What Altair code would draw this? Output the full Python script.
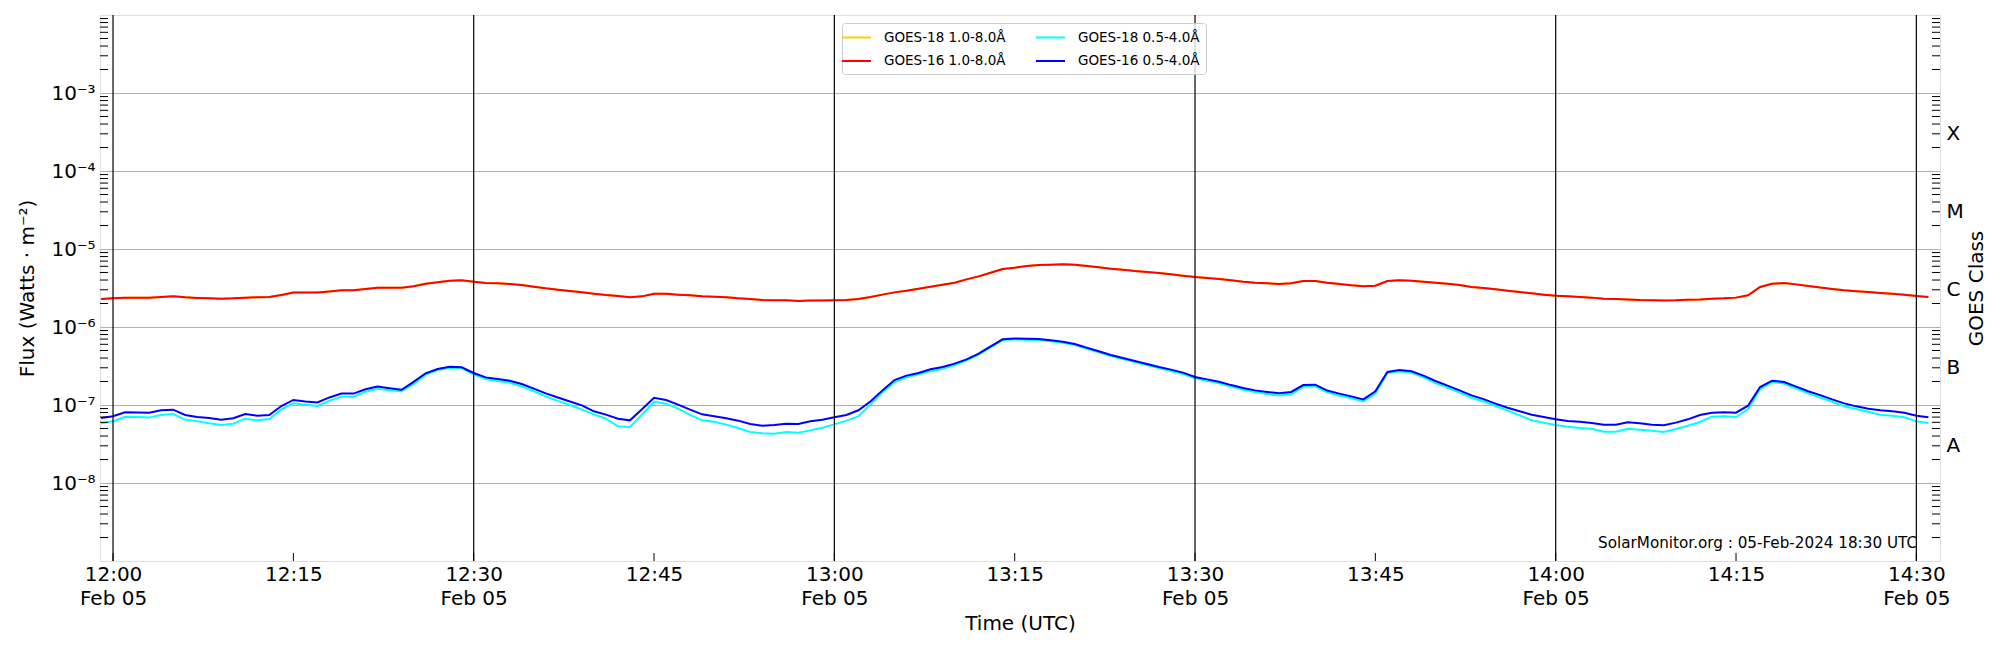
import altair as alt
import pandas as pd

# ---------------- data (1-minute cadence, 11:59 .. 14:31 UTC) ----------------
start_time = "2024-02-05 11:59:00"
n_points = 153

# GOES-16 1.0-8.0 A  (units of 1e-6 W m^-2)
goes16_long = [
    2.29, 2.33, 2.38, 2.38, 2.38, 2.42, 2.47, 2.40, 2.36, 2.33,
    2.31, 2.33, 2.38, 2.40, 2.42, 2.58, 2.76, 2.76, 2.76, 2.85,
    2.95, 2.95, 3.07, 3.19, 3.19, 3.19, 3.32, 3.59, 3.74, 3.93,
    3.97, 3.81, 3.66, 3.63, 3.56, 3.45, 3.29, 3.13, 3.01, 2.89,
    2.78, 2.67, 2.57, 2.50, 2.40, 2.47, 2.67, 2.67, 2.60, 2.55,
    2.47, 2.45, 2.40, 2.33, 2.29, 2.22, 2.20, 2.20, 2.15, 2.18,
    2.18, 2.20, 2.22, 2.29, 2.42, 2.60, 2.78, 2.92, 3.10, 3.29,
    3.49, 3.70, 4.08, 4.46, 4.97, 5.54, 5.76, 6.05, 6.24, 6.30,
    6.36, 6.30, 6.05, 5.82, 5.60, 5.43, 5.22, 5.07, 4.92, 4.73,
    4.55, 4.38, 4.25, 4.12, 3.97, 3.81, 3.70, 3.63, 3.56, 3.63,
    3.89, 3.89, 3.70, 3.56, 3.42, 3.32, 3.39, 3.89, 3.97, 3.93,
    3.81, 3.70, 3.59, 3.45, 3.26, 3.16, 3.04, 2.92, 2.81, 2.70,
    2.60, 2.52, 2.47, 2.42, 2.38, 2.31, 2.29, 2.26, 2.22, 2.20,
    2.18, 2.20, 2.24, 2.26, 2.31, 2.33, 2.38, 2.55, 3.26, 3.59,
    3.66, 3.52, 3.35, 3.22, 3.07, 2.95, 2.87, 2.81, 2.73, 2.67,
    2.60, 2.50, 2.42,
]
# GOES-18 1.0-8.0 A lies exactly under the GOES-16 curve in the picture
goes18_long = list(goes16_long)

# GOES-16 0.5-4.0 A  (units of 1e-7 W m^-2)
goes16_short = [
    0.68, 0.716, 0.805, 0.80, 0.797, 0.855, 0.871, 0.745, 0.70, 0.68,
    0.649, 0.675, 0.767, 0.730, 0.745, 0.971, 1.16, 1.11, 1.08, 1.25,
    1.40, 1.40, 1.59, 1.72, 1.64, 1.57, 1.98, 2.55, 2.89, 3.10,
    3.04, 2.57, 2.26, 2.15, 2.05, 1.86, 1.62, 1.41, 1.25, 1.11,
    0.99, 0.83, 0.752, 0.668, 0.636, 0.880, 1.24, 1.16, 1.01, 0.871,
    0.759, 0.716, 0.675, 0.630, 0.571, 0.543, 0.554, 0.576, 0.571, 0.617,
    0.649, 0.695, 0.745, 0.855, 1.11, 1.54, 2.09, 2.38, 2.57, 2.87,
    3.07, 3.39, 3.85, 4.55, 5.65, 6.95, 7.12, 7.09, 7.02, 6.75,
    6.49, 6.05, 5.43, 4.88, 4.38, 4.01, 3.66, 3.35, 3.07, 2.84,
    2.60, 2.29, 2.13, 1.99, 1.80, 1.65, 1.54, 1.47, 1.41, 1.47,
    1.80, 1.82, 1.53, 1.40, 1.29, 1.18, 1.50, 2.65, 2.81, 2.70,
    2.38, 2.03, 1.77, 1.54, 1.33, 1.19, 1.04, 0.924, 0.830, 0.752,
    0.702, 0.655, 0.624, 0.611, 0.588, 0.560, 0.560, 0.600, 0.582, 0.560,
    0.549, 0.594, 0.655, 0.745, 0.797, 0.805, 0.797, 0.980, 1.70, 2.05,
    1.97, 1.72, 1.50, 1.34, 1.18, 1.05, 0.961, 0.897, 0.855, 0.830,
    0.797, 0.730, 0.695,
]
# GOES-18 0.5-4.0 A  (units of 1e-7 W m^-2)
goes18_short = [
    0.582, 0.617, 0.708, 0.70, 0.689, 0.745, 0.767, 0.649, 0.617, 0.582,
    0.554, 0.576, 0.668, 0.636, 0.662, 0.880, 1.05, 1.01, 0.971, 1.13,
    1.28, 1.28, 1.48, 1.62, 1.54, 1.50, 1.86, 2.45, 2.81, 3.01,
    2.98, 2.47, 2.15, 2.03, 1.93, 1.73, 1.50, 1.29, 1.13, 1.00,
    0.871, 0.759, 0.668, 0.533, 0.522, 0.752, 1.10, 1.04, 0.897, 0.745,
    0.636, 0.608, 0.560, 0.507, 0.451, 0.433, 0.429, 0.451, 0.442, 0.473,
    0.512, 0.565, 0.630, 0.716, 1.01, 1.45, 1.97, 2.26, 2.47, 2.70,
    2.92, 3.26, 3.74, 4.42, 5.49, 6.81, 6.92, 6.88, 6.81, 6.55,
    6.30, 5.88, 5.27, 4.73, 4.25, 3.89, 3.56, 3.26, 2.98, 2.73,
    2.50, 2.20, 2.05, 1.90, 1.72, 1.57, 1.47, 1.38, 1.32, 1.37,
    1.72, 1.73, 1.45, 1.32, 1.22, 1.11, 1.40, 2.57, 2.70, 2.60,
    2.26, 1.91, 1.67, 1.44, 1.24, 1.11, 0.971, 0.846, 0.737, 0.636,
    0.594, 0.554, 0.527, 0.507, 0.497, 0.455, 0.455, 0.495, 0.483, 0.469,
    0.451, 0.492, 0.543, 0.605, 0.708, 0.716, 0.702, 0.889, 1.60, 1.97,
    1.88, 1.62, 1.41, 1.25, 1.10, 0.961, 0.889, 0.821, 0.752, 0.730,
    0.695, 0.617, 0.588,
]

# legend order (column-major): col 1 = 1.0-8.0, col 2 = 0.5-4.0
series_names = ["GOES-18 1.0-8.0Å", "GOES-16 1.0-8.0Å", "GOES-18 0.5-4.0Å", "GOES-16 0.5-4.0Å"]
series_colors = ["#FFD000", "#FF0000", "#00FFFF", "#0000FF"]

major_time_labels = ["12:00", "12:30", "13:00", "13:30", "14:00", "14:30"]
all_time_ticks = ["12:00", "12:15", "12:30", "12:45", "13:00", "13:15", "13:30",
                  "13:45", "14:00", "14:15", "14:30"]
flux_ticks = [1e-8, 1e-7, 1e-6, 1e-5, 1e-4, 1e-3]
class_ticks = [3e-8, 3e-7, 3e-6, 3e-5, 3e-4]
class_letters = ["A", "B", "C", "M", "X"]
note_text = "SolarMonitor.org : 05-Feb-2024 18:30 UTC"

# ---------------- tables ----------------
times = pd.date_range(start_time, periods=n_points, freq="1min").strftime("%Y-%m-%dT%H:%M:%SZ")
rows = []
for name, vals, unit in [
    (series_names[0], goes18_long, 1e-6),
    (series_names[1], goes16_long, 1e-6),
    (series_names[2], goes18_short, 1e-7),
    (series_names[3], goes16_short, 1e-7),
]:
    for t, v in zip(times, vals):
        rows.append({"time": t, "flux": v * unit, "series": name})
df = pd.DataFrame(rows)


def utc(hm, sec=0):
    h, m = hm.split(":")
    return alt.DateTime(year=2024, month=2, date=5, hours=int(h), minutes=int(m), seconds=sec, utc=True)


def iso(hm):
    return f"2024-02-05T{hm}:00Z"


minor_ticks = [m * 10.0 ** k for k in range(-9, -2) for m in range(2, 10)]
df_minor = pd.DataFrame({"v": minor_ticks})
df_vlines = pd.DataFrame({"time": [iso(h) for h in major_time_labels]})
df_xticks = pd.DataFrame({"time": [iso(h) for h in all_time_ticks]})
df_note = pd.DataFrame({"label": [note_text]})

FONT = "DejaVu Sans"
W, H = 1840, 546

xscale = alt.Scale(type="utc", domain=[utc("11:58", 55), utc("14:31", 58)])
yscale = alt.Scale(type="log", domain=[1e-9, 1e-2], nice=False)
cscale = alt.Scale(domain=series_names, range=series_colors)

# one identical x-axis spec for every layer that encodes x, so the shared axis merges cleanly
x_axis = alt.Axis(
    values=[utc(h) for h in all_time_ticks],
    labelExpr="utcminutes(datum.value) % 30 == 0 ? [utcFormat(datum.value, '%H:%M'), utcFormat(datum.value, '%b %d')] : utcFormat(datum.value, '%H:%M')",
    title="Time (UTC)", titleFont=FONT, titleFontSize=20, titleFontWeight="normal", titleColor="black",
    titlePadding=5,
    labelFont=FONT, labelFontSize=20, labelColor="black", labelPadding=3, labelLineHeight=24,
    labelOverlap=False, labelFlush=False, labelBound=False,
    ticks=False, domain=False, grid=False, orient="bottom",
)
y_axis = alt.Axis(
    values=flux_ticks,
    labelExpr="'10' + ['⁻⁹','⁻⁸','⁻⁷','⁻⁶','⁻⁵','⁻⁴','⁻³','⁻²'][round(log(datum.value)/LN10) + 9]",
    title="Flux (Watts · m⁻²)", titleFont=FONT, titleFontSize=20, titleFontWeight="normal", titleColor="black",
    titlePadding=13,
    labelFont=FONT, labelFontSize=20, labelColor="black", labelPadding=5,
    ticks=False, domain=False, grid=True, gridColor="#b0b0b0", gridWidth=1,
    orient="left",
)
right_axis = alt.Axis(
    values=class_ticks,
    labelExpr="['" + "','".join(class_letters) + "'][round(log(datum.value/3)/LN10) + 8]",
    title="GOES Class", titleFont=FONT, titleFontSize=20, titleFontWeight="normal", titleColor="black",
    titleAngle=270, titleBaseline="top", titlePadding=3,
    labelFont=FONT, labelFontSize=20, labelColor="black", labelPadding=6,
    ticks=False, domain=False, grid=False, orient="right",
)
legend = alt.Legend(
    title=None, orient="none", legendX=742, legendY=8, columns=2, direction="vertical",
    symbolType="M-2,0H2", symbolSize=210, symbolStrokeWidth=2,
    labelFont=FONT, labelFontSize=13.5, labelColor="black", labelOffset=19,
    columnPadding=26, rowPadding=8.5, padding=6,
    strokeColor="#cccccc", fillColor="rgba(255,255,255,0.8)", cornerRadius=3,
)

X = alt.X("time:T", scale=xscale, axis=x_axis)

vlines = alt.Chart(df_vlines).mark_rule(color="black", strokeWidth=1.2).encode(x=X)

line_layers = []
for i, name in enumerate(series_names):
    line_layers.append(
        alt.Chart(df).transform_filter(alt.datum.series == name).mark_line(strokeWidth=2).encode(
            x=X,
            y=alt.Y("flux:Q", scale=yscale, axis=y_axis if i == 0 else None),
            color=alt.Color("series:N", scale=cscale, legend=legend),
        )
    )

left_ticks = alt.Chart(df_minor).mark_rule(color="black", strokeWidth=1).encode(
    y=alt.Y("v:Q", scale=yscale, axis=None), x=alt.value(0), x2=alt.value(8)
)
right_ticks = alt.Chart(df_minor).mark_rule(color="black", strokeWidth=1).encode(
    y=alt.Y("v:Q", scale=yscale, axis=right_axis), x=alt.value(W - 8), x2=alt.value(W)
)
bottom_ticks = alt.Chart(df_xticks).mark_rule(color="black", strokeWidth=1).encode(
    x=X, y=alt.value(H - 8), y2=alt.value(H)
)
note = alt.Chart(df_note).mark_text(
    align="right", baseline="middle", font=FONT, fontSize=15.2, color="black"
).encode(text="label:N", x=alt.value(W - 23), y=alt.value(528))

chart = alt.layer(
    *line_layers, vlines, left_ticks, right_ticks, bottom_ticks, note
).resolve_axis(y="independent").properties(
    width=W, height=H,
    padding={"left": 92, "top": 7, "right": 50, "bottom": 80},
    autosize=alt.AutoSizeParams(type="none"),
).configure_view(stroke="black", strokeWidth=1.2).configure(font=FONT)

chart.save("out.html", embed_options={"renderer": "svg", "actions": False})
